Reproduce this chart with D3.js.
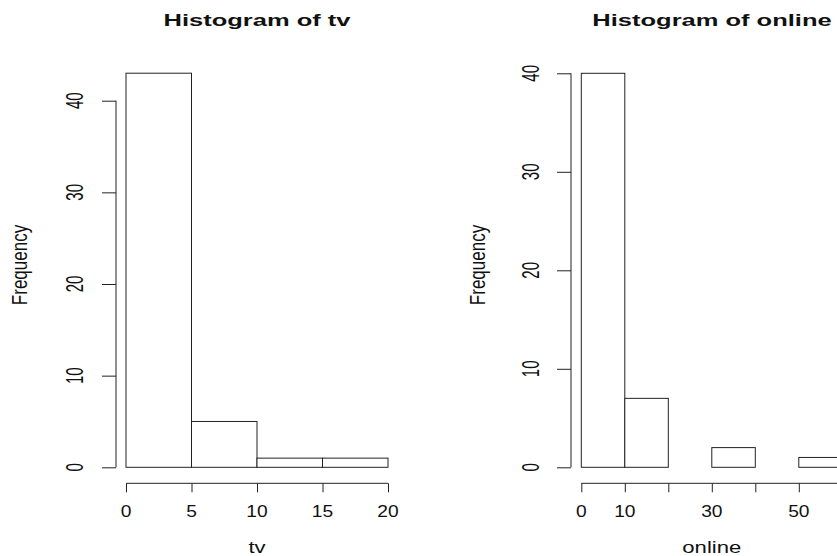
<!DOCTYPE html>
<html><head><meta charset="utf-8">
<script src="https://cdn.jsdelivr.net/npm/d3@7"></script>
<style>
body{margin:0;background:#fff;}
svg{display:block;font-family:"Liberation Sans",Arial,sans-serif;}
.ax line,.ax path{stroke:#222;}
</style></head>
<body><svg id="c" width="837" height="556"></svg>
<script>
// ---- data ----
const tvBreaks = [0, 5, 10, 15, 20];
const tvCounts = [43, 5, 1, 1];
const onlineBreaks = [0, 10, 20, 30, 40, 50, 60];
const onlineCounts = [40, 7, 0, 2, 0, 1];
const tvXTicks = [0, 5, 10, 15, 20];
const tvXLabels = ["0", "5", "10", "15", "20"];
const onlineXTicks = [0, 10, 20, 30, 40, 50, 60];
const onlineXLabels = ["0", "10", "", "30", "", "50", ""];
const yTicks = [0, 10, 20, 30, 40];
const yLabels = ["0", "10", "20", "30", "40"];
const titles = ["Histogram of tv", "Histogram of online"];
const xTitles = ["tv", "online"];
const yTitle = "Frequency";

const svg = d3.select("#c");

const panels = [
  {breaks: tvBreaks, counts: tvCounts, xTicks: tvXTicks, xLabels: tvXLabels,
   title: titles[0], xTitle: xTitles[0],
   xDom: [0, 20], xRange: [126, 388], yRange: [467.3, 100.7],
   yAxisX: 116, yLabX: 74, yTitleX: 18.5, titleX: 257},
  {breaks: onlineBreaks, counts: onlineCounts, xTicks: onlineXTicks, xLabels: onlineXLabels,
   title: titles[1], xTitle: xTitles[1],
   xDom: [0, 60], xRange: [581.3, 842.3], yRange: [467.3, 73.3],
   yAxisX: 571, yLabX: 530, yTitleX: 476.5, titleX: 712}
];

panels.forEach(p => {
  const x = d3.scaleLinear().domain(p.xDom).range(p.xRange);
  const y = d3.scaleLinear().domain([0, 40]).range(p.yRange);
  const g = svg.append("g");

  // bars
  const bins = p.counts.map((c, i) => ({x0: p.breaks[i], x1: p.breaks[i + 1], n: c}));
  g.selectAll("rect.bar").data(bins).join("rect")
    .attr("class", "bar")
    .attr("x", d => x(d.x0))
    .attr("y", d => y(d.n))
    .attr("width", d => x(d.x1) - x(d.x0))
    .attr("height", d => y(0) - y(d.n))
    .attr("fill", "#fff").attr("stroke", "#222").attr("stroke-width", 1);

  // y axis
  const ya = g.append("g").attr("class", "ax")
    .attr("transform", `translate(${p.yAxisX},0)`)
    .call(d3.axisLeft(y).tickValues(yTicks).tickFormat("").tickSize(14).tickSizeOuter(0));
  ya.select(".domain").remove();
  ya.append("line").attr("x1", 0).attr("x2", 0)
    .attr("y1", y(yTicks[0])).attr("y2", y(yTicks[yTicks.length - 1]))
    .attr("stroke", "#222");
  g.selectAll("text.yl").data(yTicks).join("text")
    .attr("class", "yl")
    .attr("transform", d => `translate(${p.yLabX},${y(d)}) scale(1.65,1) rotate(-90)`)
    .attr("text-anchor", "middle").attr("dy", "0.36em")
    .attr("font-size", 15).attr("fill", "#111")
    .text((d, i) => yLabels[i]);

  // x axis
  const xa = g.append("g").attr("class", "ax")
    .attr("transform", "translate(0,483.3)")
    .call(d3.axisBottom(x).tickValues(p.xTicks).tickFormat("").tickSize(9).tickSizeOuter(0));
  xa.select(".domain").remove();
  xa.append("line").attr("y1", 0).attr("y2", 0)
    .attr("x1", x(p.xTicks[0])).attr("x2", x(p.xTicks[p.xTicks.length - 1]))
    .attr("stroke", "#222");
  g.selectAll("text.xl").data(p.xTicks).join("text")
    .attr("class", "xl")
    .attr("transform", d => `translate(${x(d)},516.5) scale(1.2,1)`)
    .attr("text-anchor", "middle")
    .attr("font-size", 16).attr("fill", "#111")
    .text((d, i) => p.xLabels[i]);

  // titles
  g.append("text")
    .attr("transform", `translate(${p.titleX},25.7) scale(1.5,1)`)
    .attr("text-anchor", "middle").attr("font-weight", "bold")
    .attr("font-size", 17).attr("fill", "#111")
    .text(p.title);
  g.append("text")
    .attr("transform", `translate(${x((p.xDom[0] + p.xDom[1]) / 2)},553) scale(1.3,1)`)
    .attr("text-anchor", "middle")
    .attr("font-size", 17).attr("fill", "#111")
    .text(p.xTitle);
  g.append("text")
    .attr("transform", `translate(${p.yTitleX},265) scale(1.35,1) rotate(-90)`)
    .attr("text-anchor", "middle").attr("dy", "0.36em")
    .attr("font-size", 17).attr("fill", "#111")
    .text(yTitle);
});
</script>
</body></html>
